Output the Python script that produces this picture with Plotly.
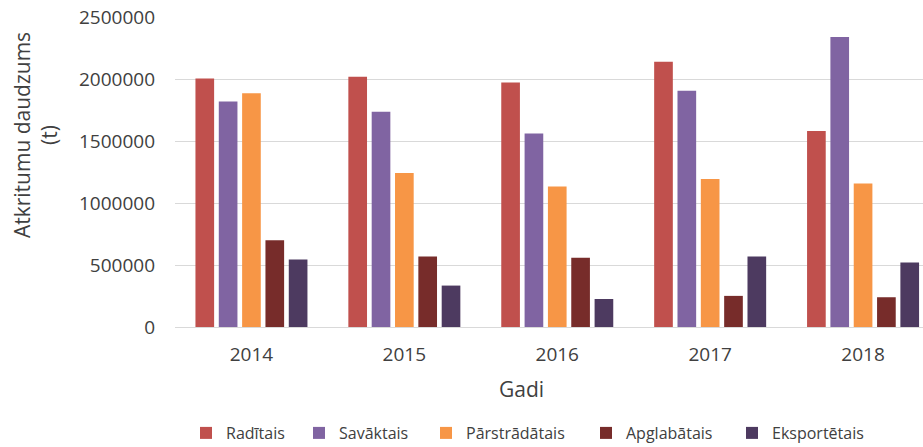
import plotly.graph_objects as go

years = ["2014", "2015", "2016", "2017", "2018"]
series_names = ["Radītais", "Savāktais", "Pārstrādātais", "Apglabātais", "Eksportētais"]
raditais = [2004000, 2018000, 1972000, 2139000, 1581000]
savaktais = [1818000, 1735000, 1560000, 1905000, 2338000]
parstradatais = [1886000, 1242000, 1134000, 1193000, 1158000]
apglabatais = [700000, 568000, 558000, 251000, 240000]
eksportetais = [544000, 334000, 226000, 568000, 520000]
colors = ["#C0504D", "#8064A2", "#F79646", "#772C2A", "#4D3A60"]
y_ticks = [0, 500000, 1000000, 1500000, 2000000, 2500000]

values = [raditais, savaktais, parstradatais, apglabatais, eksportetais]

FONT = "Open Sans"
TXT = "#404040"
L, R, T, B, W, H = 175, 0, 17, 120, 923, 447
PW = W - L - R
PH = H - T - B

# legend entry text start positions (px)
legend_text_px = [226, 339, 466, 626, 772]
legend_keys = ["legend", "legend2", "legend3", "legend4", "legend5"]

fig = go.Figure()
for name, vals, col, lk in zip(series_names, values, colors, legend_keys):
    fig.add_trace(go.Bar(x=years, y=vals, name=name, legend=lk,
                         marker=dict(color=col, line=dict(width=0))))

legend_defs = {}
for lk, tx in zip(legend_keys, legend_text_px):
    legend_defs[lk] = dict(orientation="h", x=(tx - 40 - L) / PW, xanchor="left",
                           y=(T + PH - 433) / PH, yanchor="middle",
                           font=dict(family=FONT, size=16, color=TXT),
                           bgcolor="rgba(0,0,0,0)")

fig.update_layout(
    width=W, height=H,
    margin=dict(l=L, r=R, t=T, b=B, autoexpand=False),
    plot_bgcolor="white", paper_bgcolor="white",
    barmode="group", bargap=0.237, bargroupgap=0.2,
    font=dict(family=FONT, color=TXT, size=18),
    showlegend=True,
    xaxis=dict(type="category", range=[-0.5, 4.392], showgrid=False, showline=False,
               automargin=False, ticks="",
               tickfont=dict(family=FONT, size=19, color=TXT), ticklabelstandoff=14),
    yaxis=dict(range=[0, 2500000], tickvals=y_ticks, tickformat="d", showgrid=True,
               gridcolor="#D9D9D9", gridwidth=1, zeroline=True, zerolinecolor="#D9D9D9",
               zerolinewidth=1, showline=False, ticks="", automargin=False,
               tickfont=dict(family=FONT, size=19, color=TXT), ticklabelstandoff=19),
    annotations=[
        dict(text="Atkritumu daudzums<br>(t)", xref="paper", yref="paper", x=0, y=0.619,
             xshift=-140, xanchor="center", yanchor="middle", textangle=-90, showarrow=False,
             font=dict(family=FONT, size=21, color=TXT)),
        dict(text="Gadi", xref="paper", yref="paper", x=(521 - L) / PW, y=(T + PH - 389) / PH,
             xanchor="center", yanchor="middle", showarrow=False,
             font=dict(family=FONT, size=21, color=TXT)),
    ],
    **legend_defs,
)

fig.write_html("out.html", config={"displayModeBar": False},
               post_script="document.body.style.margin='0';document.body.style.overflow='hidden';")
